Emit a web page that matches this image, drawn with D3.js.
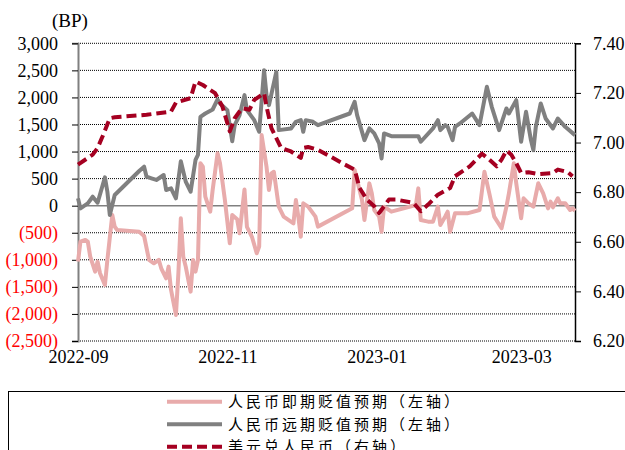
<!DOCTYPE html>
<html>
<head>
<meta charset="utf-8">
<script src="https://cdn.jsdelivr.net/npm/d3@7"></script>
<style>
  body { margin: 0; background: #fff; }
</style>
</head>
<body>
<div id="container"></div>
<script>
// series: [date, value]
const spotExpect = [
  ["2022-09-01", -1033], ["2022-09-02", -664], ["2022-09-04", -633], ["2022-09-05", -664],
  ["2022-09-06", -941], ["2022-09-08", -1218], ["2022-09-09", -1033], ["2022-09-10", -1248],
  ["2022-09-12", -1464], ["2022-09-13", -1002], ["2022-09-15", -172], ["2022-09-16", -387],
  ["2022-09-17", -449], ["2022-09-26", -480], ["2022-09-28", -560], ["2022-09-30", -1003],
  ["2022-10-02", -1065], ["2022-10-04", -1003], ["2022-10-05", -1157], ["2022-10-07", -1342],
  ["2022-10-08", -1126], ["2022-10-09", -1557], ["2022-10-11", -2019], ["2022-10-12", -1249],
  ["2022-10-13", -233], ["2022-10-14", -942], ["2022-10-15", -1126], ["2022-10-17", -1588],
  ["2022-10-18", -1003], ["2022-10-19", -1218], ["2022-10-20", -1003], ["2022-10-21", 783],
  ["2022-10-22", 721], ["2022-10-23", 167], ["2022-10-25", -111], ["2022-10-26", 290],
  ["2022-10-28", 968], ["2022-10-29", 783], ["2022-10-31", 105], ["2022-11-02", -696],
  ["2022-11-03", -172], ["2022-11-05", -250], ["2022-11-06", -510], ["2022-11-08", 300],
  ["2022-11-09", -390], ["2022-11-11", -570], ["2022-11-13", -879], ["2022-11-14", -757],
  ["2022-11-15", 1304], ["2022-11-17", 720], ["2022-11-18", 289], ["2022-11-19", 597],
  ["2022-11-20", 627], ["2022-11-22", -18], ["2022-11-24", -203], ["2022-11-28", -326],
  ["2022-11-29", 105], ["2022-11-30", -203], ["2022-12-01", -572], ["2022-12-02", 43],
  ["2022-12-04", -18], ["2022-12-07", -203], ["2022-12-08", -387], ["2022-12-22", -49],
  ["2022-12-23", 658], ["2022-12-25", 289], ["2022-12-26", 105], ["2022-12-27", -264],
  ["2022-12-29", 412], ["2022-12-30", 228], ["2022-12-31", -80], ["2023-01-02", -203],
  ["2023-01-03", -480], ["2023-01-04", -18], ["2023-01-07", -111], ["2023-01-17", 12],
  ["2023-01-18", 320], ["2023-01-19", -264], ["2023-01-22", -295], ["2023-01-24", -295],
  ["2023-01-26", -18], ["2023-01-27", -357], ["2023-01-29", -200], ["2023-01-30", -111],
  ["2023-01-31", -480], ["2023-02-02", -141], ["2023-02-07", -141], ["2023-02-12", -80],
  ["2023-02-14", 628], ["2023-02-16", 228], ["2023-02-18", -203], ["2023-02-21", -418],
  ["2023-02-23", -18], ["2023-02-24", 228], ["2023-02-26", 783], ["2023-02-27", 414],
  ["2023-03-01", -233], ["2023-03-02", 136], ["2023-03-04", 44], ["2023-03-06", -18],
  ["2023-03-08", 414], ["2023-03-10", 228], ["2023-03-12", -49], ["2023-03-13", 75],
  ["2023-03-14", -30], ["2023-03-16", 136], ["2023-03-17", 44], ["2023-03-19", 44],
  ["2023-03-21", -80], ["2023-03-22", -49], ["2023-03-23", -97]
];

const forwardExpect = [
  ["2022-09-01", 135], ["2022-09-02", -50], ["2022-09-05", 43], ["2022-09-07", 166],
  ["2022-09-09", 55], ["2022-09-12", 523], ["2022-09-13", 258], ["2022-09-14", -172],
  ["2022-09-16", 197], ["2022-09-26", 640], ["2022-09-28", 721], ["2022-09-29", 536],
  ["2022-10-01", 505], ["2022-10-03", 475], ["2022-10-06", 567], ["2022-10-07", 290],
  ["2022-10-09", 320], ["2022-10-11", 136], ["2022-10-13", 820], ["2022-10-15", 444],
  ["2022-10-17", 259], ["2022-10-19", 844], ["2022-10-20", 937], ["2022-10-21", 1642],
  ["2022-10-23", 1703], ["2022-10-26", 1777], ["2022-10-28", 1962], ["2022-10-29", 1888],
  ["2022-11-01", 1765], ["2022-11-03", 1190], ["2022-11-04", 1488], ["2022-11-06", 1673],
  ["2022-11-08", 2042], ["2022-11-09", 1765], ["2022-11-12", 1580], ["2022-11-14", 1365],
  ["2022-11-16", 2503], ["2022-11-17", 2042], ["2022-11-18", 1857], ["2022-11-21", 2472],
  ["2022-11-22", 1396], ["2022-11-27", 1427], ["2022-11-29", 1550], ["2022-12-01", 1580],
  ["2022-12-02", 1365], ["2022-12-03", 1580], ["2022-12-06", 1550], ["2022-12-08", 1488],
  ["2022-12-21", 1703], ["2022-12-23", 1919], ["2022-12-24", 1673], ["2022-12-27", 1211],
  ["2022-12-29", 1427], ["2022-12-31", 1335], ["2023-01-02", 1150], ["2023-01-03", 873],
  ["2023-01-04", 1335], ["2023-01-07", 1285], ["2023-01-18", 1285], ["2023-01-19", 1181],
  ["2023-01-24", 1427], ["2023-01-26", 1580], ["2023-01-27", 1396], ["2023-01-29", 1488],
  ["2023-01-30", 1457], ["2023-02-01", 1211], ["2023-02-02", 1457], ["2023-02-04", 1519],
  ["2023-02-09", 1703], ["2023-02-12", 1488], ["2023-02-15", 2196], ["2023-02-17", 1827],
  ["2023-02-20", 1396], ["2023-02-23", 1796], ["2023-02-24", 1703], ["2023-02-27", 1950],
  ["2023-03-01", 1181], ["2023-03-03", 1734], ["2023-03-05", 1211], ["2023-03-06", 1027],
  ["2023-03-07", 1457], ["2023-03-09", 1888], ["2023-03-11", 1611], ["2023-03-14", 1427],
  ["2023-03-16", 1611], ["2023-03-19", 1457], ["2023-03-23", 1304]
];

const usdCny = [
  ["2022-09-01", 6.911], ["2022-09-07", 6.951], ["2022-09-09", 6.978], ["2022-09-11", 7.024],
  ["2022-09-14", 7.098], ["2022-09-16", 7.102], ["2022-09-29", 7.112], ["2022-10-09", 7.125],
  ["2022-10-11", 7.161], ["2022-10-17", 7.179], ["2022-10-19", 7.246], ["2022-10-22", 7.232],
  ["2022-10-27", 7.199], ["2022-10-30", 7.145], ["2022-11-02", 7.045], ["2022-11-04", 7.098],
  ["2022-11-07", 7.139], ["2022-11-10", 7.132], ["2022-11-12", 7.172], ["2022-11-16", 7.199],
  ["2022-11-17", 7.145], ["2022-11-19", 7.058], ["2022-11-21", 7.018], ["2022-11-23", 6.978],
  ["2022-11-27", 6.964], ["2022-12-01", 6.938], ["2022-12-02", 6.978], ["2022-12-04", 6.982],
  ["2022-12-08", 6.971], ["2022-12-13", 6.944], ["2022-12-19", 6.911], ["2022-12-23", 6.891],
  ["2022-12-25", 6.817], ["2022-12-28", 6.770], ["2022-12-31", 6.743], ["2023-01-02", 6.716],
  ["2023-01-04", 6.743], ["2023-01-06", 6.770], ["2023-01-09", 6.770], ["2023-01-16", 6.757],
  ["2023-01-19", 6.723], ["2023-01-22", 6.750], ["2023-01-26", 6.790], ["2023-01-31", 6.817],
  ["2023-02-02", 6.864], ["2023-02-08", 6.904], ["2023-02-13", 6.955], ["2023-02-16", 6.931],
  ["2023-02-19", 6.904], ["2023-02-21", 6.931], ["2023-02-23", 6.968], ["2023-02-25", 6.951],
  ["2023-02-27", 6.917], ["2023-03-01", 6.877], ["2023-03-04", 6.880], ["2023-03-08", 6.873],
  ["2023-03-14", 6.877], ["2023-03-16", 6.891], ["2023-03-20", 6.881], ["2023-03-22", 6.864]
];

const leftTicks = [3000, 2500, 2000, 1500, 1000, 500, 0, -500, -1000, -1500, -2000, -2500];
const rightTicks = [6.2, 6.4, 6.6, 6.8, 7.0, 7.2, 7.4];
const monthTicks = ["2022-09-01", "2022-11-01", "2023-01-01", "2023-03-01"];
const legendNames = ["人民币即期贬值预期（左轴）", "人民币远期贬值预期（左轴）", "美元兑人民币（右轴）"];

const width = 625;
const height = 450;
const plot = { left: 78, right: 575, top: 43.3, bottom: 341 };
const parse = d3.timeParse("%Y-%m-%d");
const serif = "'Liberation Serif', 'Times New Roman', serif";

const svg = d3.select("#container").append("svg")
    .attr("width", width)
    .attr("height", height)
    .style("font-family", serif);

const x = d3.scaleTime()
    .domain([parse("2022-09-01"), parse("2023-03-23")])
    .range([plot.left, plot.right]);
const yL = d3.scaleLinear().domain([-2500, 3000]).range([plot.bottom, plot.top]);
const yR = d3.scaleLinear().domain([6.2, 7.4]).range([plot.bottom, plot.top]);

// dotted gridlines
svg.append("g")
    .selectAll("line")
    .data(leftTicks.filter(d => d !== 0))
    .join("line")
    .attr("x1", plot.left).attr("x2", plot.right)
    .attr("y1", d => yL(d)).attr("y2", d => yL(d))
    .attr("stroke", "#000")
    .attr("stroke-width", 1)
    .attr("stroke-dasharray", "1,1");

// zero line
svg.append("line")
    .attr("x1", plot.left).attr("x2", plot.right)
    .attr("y1", yL(0)).attr("y2", yL(0))
    .attr("stroke", "#808080")
    .attr("stroke-width", 1.5);

// left axis
const fmt = d3.format(",");
const leftAxis = svg.append("g")
    .attr("transform", `translate(${plot.left},0)`)
    .call(d3.axisLeft(yL).tickValues(leftTicks).tickSizeOuter(0).tickSize(6).tickPadding(14)
        .tickFormat(d => d < 0 ? `(${fmt(-d)})` : fmt(d)));
leftAxis.select(".domain").attr("stroke", "#808080").attr("stroke-width", 2);
leftAxis.selectAll("text")
    .attr("font-size", 18)
    .attr("font-family", serif)
    .attr("fill", d => d < 0 ? "#ff0000" : "#000");

// right axis
const rightAxis = svg.append("g")
    .attr("transform", `translate(${plot.right},0)`)
    .call(d3.axisRight(yR).tickValues(rightTicks).tickSizeOuter(0).tickSize(6).tickPadding(12)
        .tickFormat(d3.format(".2f")));
rightAxis.select(".domain").attr("stroke", "#000").attr("stroke-width", 1.5);
rightAxis.selectAll("text").attr("font-size", 18).attr("font-family", serif).attr("fill", "#000");

// bottom labels
const bottomAxis = svg.append("g")
    .attr("transform", `translate(0,${plot.bottom})`)
    .call(d3.axisBottom(x).tickValues(monthTicks.map(parse)).tickSize(0).tickPadding(9)
        .tickFormat(d3.timeFormat("%Y-%m")));
bottomAxis.select(".domain").remove();
bottomAxis.selectAll("text").attr("font-size", 18).attr("font-family", serif).attr("fill", "#000");

svg.append("text")
    .attr("x", 70).attr("y", 27)
    .attr("text-anchor", "middle")
    .attr("font-size", 19)
    .text("(BP)");

// lines
const lineL = d3.line().x(d => x(parse(d[0]))).y(d => yL(d[1]));
const lineR = d3.line().x(d => x(parse(d[0]))).y(d => yR(d[1]));

const series = [
    { data: spotExpect, gen: lineL, color: "#e8abab", dash: null },
    { data: forwardExpect, gen: lineL, color: "#808080", dash: null },
    { data: usdCny, gen: lineR, color: "#a50021", dash: "10,5" }
];

svg.append("g")
    .attr("fill", "none")
    .selectAll("path")
    .data(series)
    .join("path")
    .attr("d", d => d.gen(d.data))
    .attr("stroke", d => d.color)
    .attr("stroke-width", 4)
    .attr("stroke-linejoin", "round")
    .attr("stroke-dasharray", d => d.dash);

// legend
const legend = svg.append("g");
legend.append("rect")
    .attr("x", 8.5).attr("y", 391.5)
    .attr("width", 700).attr("height", 100)
    .attr("fill", "none")
    .attr("stroke", "#000")
    .attr("stroke-width", 1);

const rows = legend.selectAll("g.row")
    .data(series)
    .join("g")
    .attr("class", "row")
    .attr("transform", (d, i) => `translate(0,${401.7 + i * 22.5})`);
rows.append("line")
    .attr("x1", 167).attr("x2", 222)
    .attr("stroke", d => d.color)
    .attr("stroke-width", 4)
    .attr("stroke-dasharray", d => d.dash);
rows.append("text")
    .attr("x", 228).attr("dy", "0.36em")
    .attr("font-family", "'Noto Sans CJK SC', sans-serif")
    .attr("font-size", 15)
    .attr("letter-spacing", 3)
    .attr("fill", "#000")
    .text((d, i) => legendNames[i]);
</script>
</body>
</html>
